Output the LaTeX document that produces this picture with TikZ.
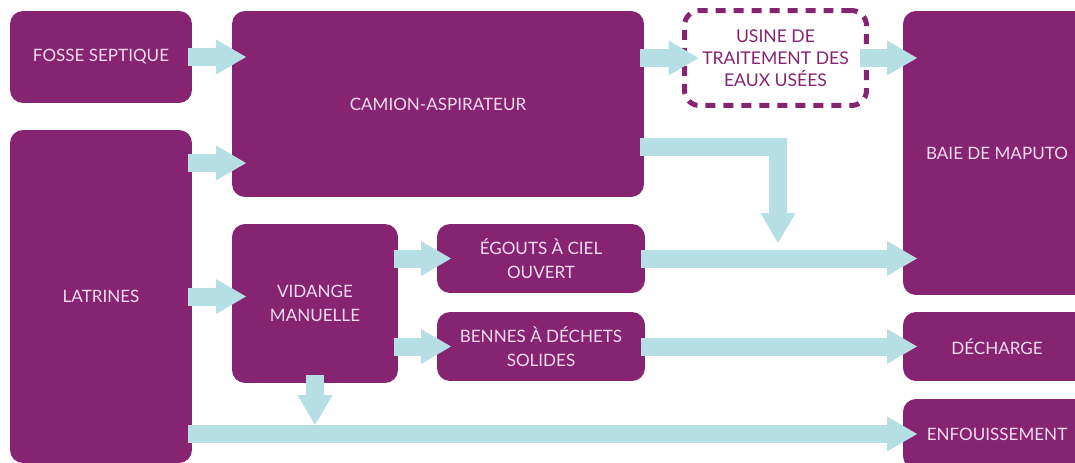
\documentclass[tikz,border=0pt]{standalone}
\usepackage{fontspec}
\setmainfont{Lato}
\usetikzlibrary{arrows.meta}
\definecolor{plum}{RGB}{134,36,114}
\definecolor{lightplum}{RGB}{240,220,236}
\definecolor{flowblue}{RGB}{182,223,229}

\begin{document}
\begin{tikzpicture}[x=0.02cm, y=-0.02cm]
		\tikzstyle{Box} = [rectangle, rounded corners=0.26cm, fill=plum, text=lightplum, align=center, inner sep=0pt, outer sep=0pt, font=\fontsize{9.7}{13.6}\selectfont]
		\tikzstyle{Plant} = [rectangle, rounded corners=0.3cm, draw=plum, line width=0.1cm, dash pattern=on 0.2cm off 0.16cm, text=plum, align=center, inner sep=0pt, outer sep=0pt, font=\fontsize{10}{12.5}\selectfont]
		\tikzstyle{flow} = [draw=flowblue, line width=0.36cm, -{Triangle[width=0.7cm,length=0.6cm,line width=0pt]}, shorten <=-0.08cm, shorten >=-0.28cm]

		\useasboundingbox (0,0) rectangle (1075,463);
		\clip (0,0) rectangle (1075,463);
		\node (fosse) [Box, minimum width=3.64cm, minimum height=1.84cm] at (101,57) {FOSSE SEPTIQUE};
		\node (latrines) [Box, minimum width=3.64cm, minimum height=6.66cm] at (101,296.5) {LATRINES};
		\node (camion) [Box, minimum width=8.24cm, minimum height=3.72cm] at (438,104) {CAMION-ASPIRATEUR};
		\node (vidange) [Box, minimum width=3.32cm, minimum height=3.18cm] at (315,303.5) {VIDANGE\\MANUELLE};
		\node (egouts) [Box, minimum width=4.16cm, minimum height=1.38cm] at (541,258.5) {ÉGOUTS À CIEL\\OUVERT};
		\node (bennes) [Box, minimum width=4.16cm, minimum height=1.38cm] at (541,346.5) {BENNES À DÉCHETS\\SOLIDES};
		\node (usine) [Plant, minimum width=3.64cm, minimum height=1.9cm] at (775.5,58) {USINE DE\\TRAITEMENT DES\\EAUX USÉES};
		\node (baie) [Box, minimum width=3.76cm, minimum height=5.68cm] at (997,153) {BAIE DE MAPUTO};
		\node (decharge) [Box, minimum width=3.76cm, minimum height=1.38cm] at (997,346.5) {DÉCHARGE};
		\node (enfouis) [Box, minimum width=3.76cm, minimum height=1.4cm] at (997,434) {ENFOUISSEMENT};
		\coordinate (drop) at (778,243);

		\draw [flow] (fosse.east) -- (fosse.east -| camion.west);
		\draw [flow] ([yshift=-0.66cm]latrines.north east) -- ([yshift=-0.66cm]latrines.north east -| camion.west);
		\draw [flow] (latrines.east) -- (latrines.east -| vidange.west);
		\draw [flow] (camion.east |- usine.west) -- (usine.west);
		\draw [flow, shorten <=-0.13cm] (usine.east) -- (usine.east -| baie.west);
		\draw [flow, shorten >=0pt, line join=miter] ([yshift=1cm]camion.south east) -| (drop);
		\draw [flow] (vidange.east |- egouts.west) -- (egouts.west);
		\draw [flow] (vidange.east |- bennes.west) -- (bennes.west);
		\draw [flow] (egouts.east) -- (egouts.east -| baie.west);
		\draw [flow] (bennes.east) -- (bennes.east -| decharge.west);
		\draw [flow, shorten <=-0.16cm, shorten >=0.18cm] (vidange.south) -- (vidange.south |- enfouis.west);
		\draw [flow] (latrines.east |- enfouis.west) -- (enfouis.west);
\end{tikzpicture}
\end{document}
